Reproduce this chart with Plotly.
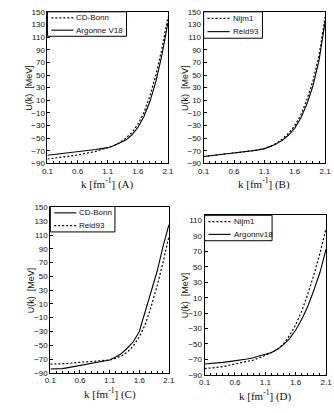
import plotly.graph_objects as go

# ---------------- data ----------------
k = [0.1, 0.2, 0.3, 0.4, 0.5, 0.6, 0.7, 0.8, 0.9, 1.0, 1.1,
     1.2, 1.3, 1.4, 1.5, 1.6, 1.7, 1.8, 1.9, 2.0, 2.1]

# Panel A
a_cdbonn = [-83, -82, -81, -79.5, -78, -76.5, -75, -73, -71, -68, -65.5,
            -62, -57, -50, -41, -28, -10, 17, 50, 92, 142]
a_argonne = [-77, -76, -75, -74, -72.5, -71.5, -70.5, -69, -68, -66.5, -65,
             -62, -58, -53, -45, -33, -16, 8, 40, 82, 133]
# Panel B
b_nijm1 = [-79, -78, -77, -76, -75, -73.5, -72, -71, -70, -68.5, -66.5,
           -63, -58, -51, -42, -30, -13, 11, 41, 81, 142]
b_reid93 = [-79, -78, -77, -76, -75, -73.5, -72, -71, -70, -68.5, -66.5,
            -63, -59, -53, -45, -34, -18, 4, 33, 73, 134]
# Panel C
c_cdbonn = [-84.5, -84.3, -84, -82.5, -81, -79.5, -78, -76.5, -75, -73.5, -71.5,
            -67, -62, -54, -45, -30, -2, 27, 57, 93, 125]
c_reid93 = [-77.5, -77.5, -77, -76.5, -75.5, -75, -74.5, -74, -73, -72.5, -71.5,
            -69, -65.5, -60, -51, -38, -20, 6, 36, 70, 108]
# Panel D
d_nijm1 = [-82, -81.5, -80.5, -79.5, -78, -76.5, -75, -73, -71, -68, -65,
           -61.5, -57, -50, -39, -25, -7, 15, 40, 68, 100]
d_argonne = [-76, -75.5, -75, -74, -73, -72, -71, -69.5, -68, -66, -64,
             -61, -57, -51, -43, -32, -18, -1, 20, 43, 73]

x_ticks = [0.1, 0.6, 1.1, 1.6, 2.1]
panel_letters = ["A", "B", "C", "D"]

# ---------------- layout helpers ----------------
W, H = 334, 413


def px_x(p):
    return p / W


def px_y(p):
    return 1 - p / H


boxes = {  # left, right, top, bottom in pixels
    1: (43, 168, 8, 163),
    2: (205, 331, 8, 163),
    3: (46, 169, 208, 377),
    4: (206, 332, 216, 379),
}
yranges = {1: [-90, 150], 2: [-90, 150], 3: [-90, 150], 4: [-90, 117]}
# legend boxes: left, right, top, bottom
legend_boxes = {
    1: (43, 125, 8, 33),
    2: (205, 266, 8, 35),
    3: (46, 113, 207, 233),
    4: (206, 276, 216, 242),
}

SOLID = dict(color="black", width=1.1)
DOT = dict(color="black", width=1.2, dash="2px,2px")

series = [
    (1, "CD-Bonn", a_cdbonn, DOT),
    (1, "Argonne V18", a_argonne, SOLID),
    (2, "Nijm1", b_nijm1, DOT),
    (2, "Reid93", b_reid93, SOLID),
    (3, "CD-Bonn", c_cdbonn, SOLID),
    (3, "Reid93", c_reid93, DOT),
    (4, "Nijm1", d_nijm1, DOT),
    (4, "Argonnv18", d_argonne, SOLID),
]

fig = go.Figure()
for p, name, vals, ln in series:
    sfx = "" if p == 1 else str(p)
    fig.add_trace(go.Scatter(
        x=k, y=vals, mode="lines", name=name, line=ln,
        xaxis="x" + sfx, yaxis="y" + sfx, showlegend=False,
    ))

tick_font = dict(family="Liberation Sans, Arial", size=8, color="#111")
layout = dict(
    width=W, height=H, autosize=False,
    margin=dict(l=0, r=0, t=0, b=0),
    paper_bgcolor="white", plot_bgcolor="white",
    annotations=[], shapes=[],
)

for p in range(1, 5):
    L, R, T, B = boxes[p]
    sfx = "" if p == 1 else str(p)
    layout["xaxis" + sfx] = dict(
        domain=[px_x(L), px_x(R)], range=[0.1, 2.1],
        anchor="y" + sfx, tickvals=x_ticks,
        ticktext=[str(v) for v in x_ticks],
        showline=True, linecolor="black", linewidth=1, mirror=True,
        ticks="inside", ticklen=3, tickcolor="black",
        minor=dict(dtick=0.1, tick0=0.1, ticks="inside", ticklen=2,
                   tickcolor="black", showgrid=False),
        showgrid=False, zeroline=False, tickfont=tick_font,
    )
    layout["yaxis" + sfx] = dict(
        domain=[px_y(B), px_y(T)], range=yranges[p],
        anchor="x" + sfx, tick0=-90, dtick=20,
        showline=True, linecolor="black", linewidth=1, mirror=True,
        ticks="inside", ticklen=3, tickcolor="black",
        showgrid=False, zeroline=False, tickfont=tick_font,
    )
    # y title
    layout["annotations"].append(dict(
        text="U(k)\u00a0\u00a0[MeV]", textangle=-90, showarrow=False,
        x=px_x(L - 20), y=px_y((T + B) / 2), xref="paper", yref="paper",
        xanchor="center", yanchor="middle",
        font=dict(family="Liberation Sans, Arial", size=9, color="#111"),
    ))
    # x title
    layout["annotations"].append(dict(
        text="k [fm<sup>-1</sup>] (%s)" % panel_letters[p - 1], showarrow=False,
        x=px_x((L + R) / 2), y=px_y(B + 21), xref="paper", yref="paper",
        xanchor="center", yanchor="middle",
        font=dict(family="Liberation Serif, Times New Roman", size=11,
                  color="#111"),
    ))

    # legend box (drawn as a framed key like the original)
    lL, lR, lT, lB = legend_boxes[p]
    layout["shapes"].append(dict(
        type="rect", xref="paper", yref="paper",
        x0=px_x(lL), x1=px_x(lR), y0=px_y(lB), y1=px_y(lT),
        line=dict(color="black", width=1), fillcolor="white", layer="above",
    ))
    entries = [(n, ln) for (pp, n, v, ln) in series if pp == p]
    row_h = (lB - lT) / len(entries)
    for i, (n, ln) in enumerate(entries):
        yc = lT + row_h * (i + 0.5)
        layout["shapes"].append(dict(
            type="line", xref="paper", yref="paper",
            x0=px_x(lL + 4), x1=px_x(lL + 27), y0=px_y(yc), y1=px_y(yc),
            line=ln, layer="above",
        ))
        layout["annotations"].append(dict(
            text=n, showarrow=False, xref="paper", yref="paper",
            x=px_x(lL + 28), y=px_y(yc), xanchor="left", yanchor="middle",
            font=dict(family="Liberation Sans, Arial", size=8, color="#111"),
        ))

fig.update_layout(**layout)
fig.write_html(
    "out.html",
    config={"displayModeBar": False},
    post_script="document.body.style.margin='0';"
                "document.body.style.overflow='hidden';",
)
